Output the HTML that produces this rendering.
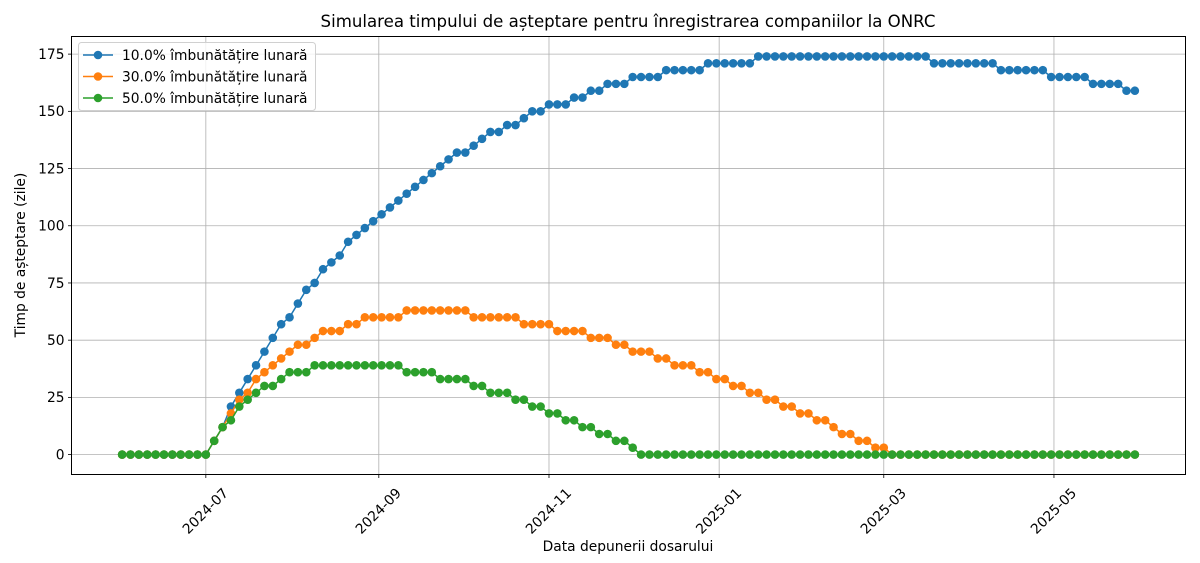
<!DOCTYPE html>
<html><head><meta charset="utf-8"><style>
body{margin:0;background:#fff;}
svg{display:block;font-family:"DejaVu Sans","Liberation Sans",sans-serif;}
</style></head><body>
<svg id="chart" width="1200" height="563" viewBox="0 0 1200 563">
<rect width="1200" height="563" fill="#fff"/>
<text x="628" y="27" font-size="16.6" text-anchor="middle" fill="#000">Simularea timpului de așteptare pentru înregistrarea companiilor la ONRC</text>
<text x="628" y="551" font-size="13.8" text-anchor="middle">Data depunerii dosarului</text>
<text transform="translate(25,255) rotate(-90)" font-size="13.8" text-anchor="middle">Timp de așteptare (zile)</text>
<g id="grid"></g><g id="series"></g><g id="axes"></g><g id="legend"></g>
</svg>
<script>
const tickDays=[30,92,153,214,273,334];
const tickLabels=["2024-07","2024-09","2024-11","2025-01","2025-03","2025-05"];
const yTicks=[0,25,50,75,100,125,150,175];
const seriesNames=["10.0% îmbunătățire lunară","30.0% îmbunătățire lunară","50.0% îmbunătățire lunară"];
const seriesColors=["#1f77b4","#ff7f0e","#2ca02c"];
const stepDays=3;
const blue=[0,0,0,0,0,0,0,0,0,0,0,6,12,21,27,33,39,45,51,57,60,66,72,75,81,84,87,93,96,99,102,105,108,111,114,117,120,123,126,129,132,132,135,138,141,141,144,144,147,150,150,153,153,153,156,156,159,159,162,162,162,165,165,165,165,168,168,168,168,168,171,171,171,171,171,171,174,174,174,174,174,174,174,174,174,174,174,174,174,174,174,174,174,174,174,174,174,171,171,171,171,171,171,171,171,168,168,168,168,168,168,165,165,165,165,165,162,162,162,162,159,159];
const orange=[0,0,0,0,0,0,0,0,0,0,0,6,12,18,24,27,33,36,39,42,45,48,48,51,54,54,54,57,57,60,60,60,60,60,63,63,63,63,63,63,63,63,60,60,60,60,60,60,57,57,57,57,54,54,54,54,51,51,51,48,48,45,45,45,42,42,39,39,39,36,36,33,33,30,30,27,27,24,24,21,21,18,18,15,15,12,9,9,6,6,3,3,0,0,0,0,0,0,0,0,0,0,0,0,0,0,0,0,0,0,0,0,0,0,0,0,0,0,0,0,0,0];
const green=[0,0,0,0,0,0,0,0,0,0,0,6,12,15,21,24,27,30,30,33,36,36,36,39,39,39,39,39,39,39,39,39,39,39,36,36,36,36,33,33,33,33,30,30,27,27,27,24,24,21,21,18,18,15,15,12,12,9,9,6,6,3,0,0,0,0,0,0,0,0,0,0,0,0,0,0,0,0,0,0,0,0,0,0,0,0,0,0,0,0,0,0,0,0,0,0,0,0,0,0,0,0,0,0,0,0,0,0,0,0,0,0,0,0,0,0,0,0,0,0,0,0];
const allSeries=[blue,orange,green];
const NS="http://www.w3.org/2000/svg";
const L=71.5,R=1185.5,T=36.5,B=474.5;
const nPts=blue.length, maxDay=(nPts-1)*stepDays;
const xmin=-0.05*maxDay,xmax=maxDay*1.05;
let ymaxD=0;allSeries.forEach(s=>s.forEach(v=>{if(v>ymaxD)ymaxD=v;}));
const ymin=-0.05*ymaxD,ymax=ymaxD*1.05;
function xs(d){return L+(d-xmin)/(xmax-xmin)*(R-L);}
function ys(v){return B-(v-ymin)/(ymax-ymin)*(B-T);}
function mk(tag,attrs,parent){const e=document.createElementNS(NS,tag);for(const k in attrs)e.setAttribute(k,attrs[k]);parent.appendChild(e);return e;}
const grid=document.getElementById('grid'),axes=document.getElementById('axes'),ser=document.getElementById('series'),leg=document.getElementById('legend');
tickDays.forEach((d,i)=>{const x=xs(d);
 const g=mk('line',{x1:x,x2:x,y1:T,y2:B,stroke:'#b0b0b0','stroke-width':0.8},grid);
 
 
 mk('line',{x1:x,x2:x,y1:B,y2:B+3.5,stroke:'#000','stroke-width':0.8},axes);
 const t=mk('text',{x:0,y:0,'font-size':13.8,'text-anchor':'middle','dominant-baseline':'central',transform:`translate(${x},${B+37}) rotate(-45)`},axes);
 t.textContent=tickLabels[i];
 
 
});
yTicks.forEach(v=>{const y=ys(v);
 const g=mk('line',{x1:L,x2:R,y1:y,y2:y,stroke:'#b0b0b0','stroke-width':0.8},grid);
 
 
 mk('line',{x1:L-3.5,x2:L,y1:y,y2:y,stroke:'#000','stroke-width':0.8},axes);
 const t=mk('text',{x:L-7,y:y+4.8,'font-size':13.8,'text-anchor':'end'},axes);
 t.textContent=v;
 
 
});
const fr=mk('rect',{x:L,y:T,width:R-L,height:B-T,fill:'none',stroke:'#000','stroke-width':1},axes);


allSeries.forEach((s,si)=>{
 const g=mk('g',{},ser);
 
 
 const pts=s.map((v,i)=>xs(i*stepDays).toFixed(2)+','+ys(v).toFixed(2)).join(' ');
 const pl=mk('polyline',{points:pts,fill:'none',stroke:seriesColors[si],'stroke-width':1.5},g);
 
 
 s.forEach((v,i)=>{const c=mk('circle',{cx:xs(i*stepDays),cy:ys(v),r:4.3,fill:seriesColors[si]},g);
  
  });
});
const lb=mk('rect',{x:78.5,y:42.5,width:237,height:68,rx:3,fill:'#fff','fill-opacity':0.8,stroke:'#d0d0d0','stroke-width':1},leg);


seriesNames.forEach((n,i)=>{const y=55+i*21.5;
 const g=mk('g',{},leg);
 
 
 mk('line',{x1:83,x2:113,y1:y,y2:y,stroke:seriesColors[i],'stroke-width':1.5},g);
 mk('circle',{cx:98,cy:y,r:4.3,fill:seriesColors[i]},g);
 const t=mk('text',{x:122,y:y+4.8,'font-size':13.8},g);t.textContent=n;
});
</script>
</body></html>
